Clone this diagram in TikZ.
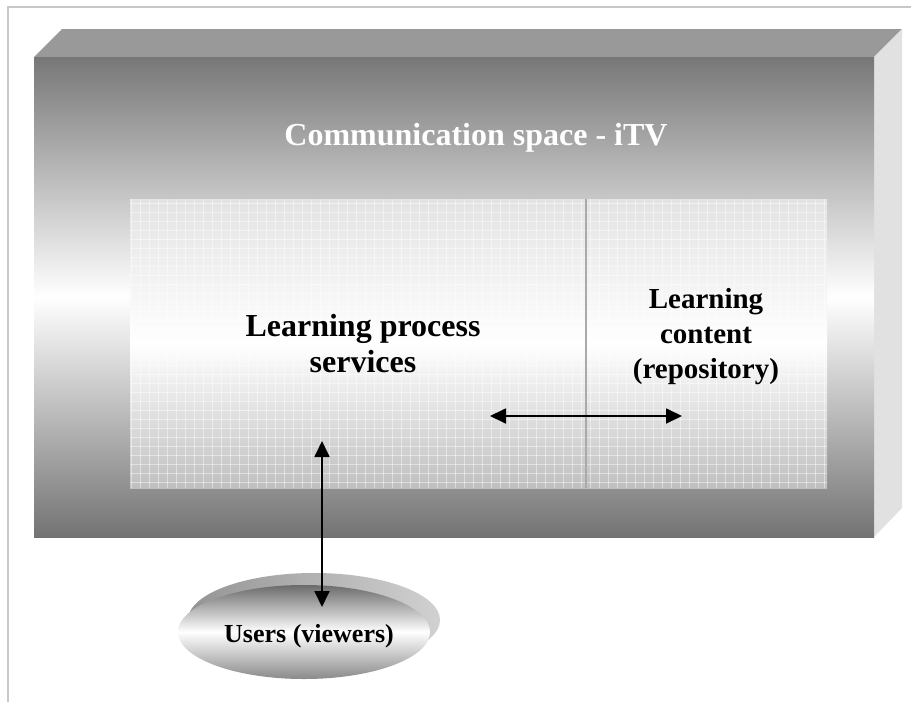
\documentclass[tikz,border=0pt]{standalone}
\usepackage{fontspec}
\setmainfont{Liberation Serif}
\usetikzlibrary{arrows.meta,shapes.geometric}
\definecolor{frontdark}{HTML}{777777}
\definecolor{frontbot}{HTML}{737373}
\definecolor{topface}{HTML}{999999}
\definecolor{sideface}{HTML}{E1E1E1}
\definecolor{framegray}{HTML}{C8C8C8}
\definecolor{divider}{HTML}{AAAAAA}
\begin{document}
\begin{tikzpicture}[x=1pt,y=-1pt,
  lbl/.style={text=black, inner sep=0pt, align=center},
  biarrow/.style={line width=1.8pt, {Triangle[length=16pt,width=15pt]}-{Triangle[length=16pt,width=15pt]}},
  plainbox/.style={rectangle, draw=none, inner sep=0pt}]
\useasboundingbox (0,0) rectangle (911,702);
\fill[white] (0,0) rectangle (911,702);
% page frame (cropped)
\draw[framegray, line width=2pt] (8,702) -- (8,7) -- (911,7);
% 3D box
\fill[topface] (34,57) -- (62,29) -- (902,29) -- (874,57) -- cycle;
\fill[sideface] (874,57) -- (902,29) -- (902,508) -- (874,537) -- cycle;
\node[plainbox, minimum width=840pt, minimum height=480pt,
      top color=frontdark, bottom color=frontbot, middle color=white] (front) at (454,297) {};
% inner patterned area
\node[plainbox, minimum width=697pt, minimum height=289pt,
      top color=black!11, bottom color=black!25, middle color=white] (inner) at (478.5,343.5) {};
\begin{scope}
\clip (130,199) rectangle (827,488);
\foreach \gx in {131,140,...,827} \draw[white, line width=0.6pt, opacity=0.45] (\gx,199) -- (\gx,488);
\foreach \gy in {203,212,...,488} \draw[white, line width=0.6pt, opacity=0.45] (130,\gy) -- (827,\gy);
\end{scope}
\coordinate (divT) at (586,199);
\coordinate (divB) at (586,488);
\draw[divider, line width=1.5pt] (divT) -- (divB);
% texts
\node[lbl, text=white, font=\bfseries\fontsize{32}{38}\selectfont, anchor=base] (title) at (476,145) {Communication space - iTV};
\node[lbl, font=\bfseries\fontsize{32}{36}\selectfont] (proc) at (363,344) {Learning process\\services};
\node[lbl, font=\bfseries\fontsize{29}{35}\selectfont] (content) at (706,337) {Learning\\content\\(repository)};
% users ellipse
\node[ellipse, draw=none, inner sep=0pt, minimum width=252pt, minimum height=94pt,
      left color=black!42, right color=black!18] (usersh) at (314,620) {};
\node[ellipse, draw=none, inner sep=0pt, minimum width=252pt, minimum height=94pt,
      top color=black!58, bottom color=black!46, middle color=white] (users) at (304,632) {};
\node[lbl, font=\bfseries\fontsize{26}{30}\selectfont, anchor=base] (userst) at (309,642) {Users (viewers)};
% arrows
\coordinate (hL) at (490,416);
\coordinate (hR) at (682,416);
\coordinate (vT) at (322,441);
\coordinate (vB) at (322,607);
\draw[biarrow] (hL) -- (hR);
\draw[biarrow] (vT) -- (vB);
\end{tikzpicture}
\end{document}
